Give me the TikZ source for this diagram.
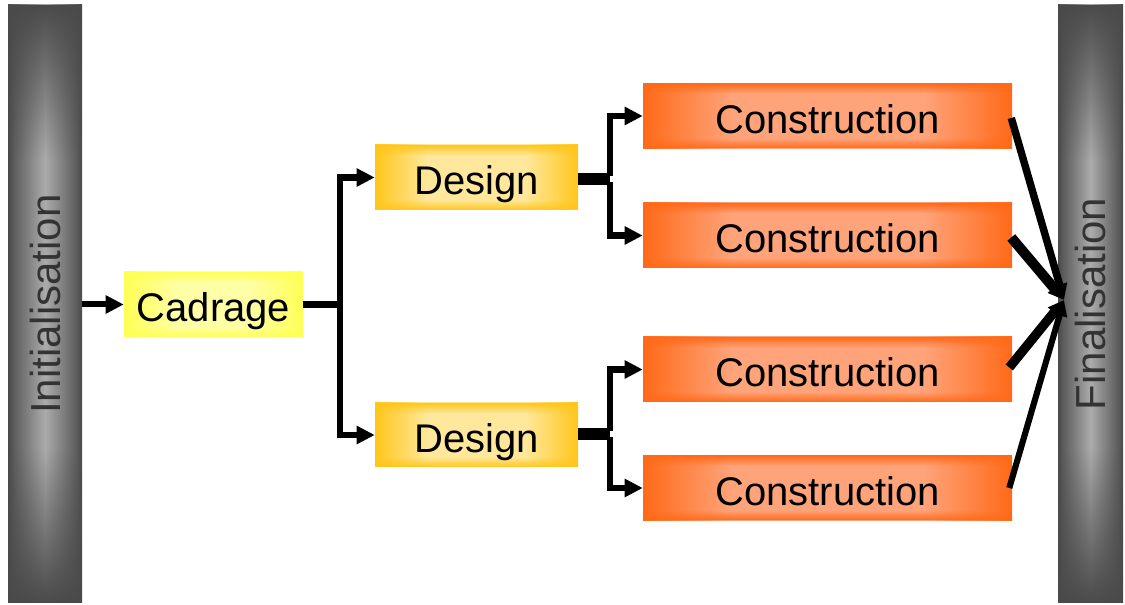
\documentclass[tikz,border=0pt]{standalone}
\usepackage{fontspec}
\setmainfont{Liberation Sans}
\usetikzlibrary{arrows.meta,fadings,calc}
\definecolor{orE}{HTML}{FF6A18}
\definecolor{orL}{HTML}{FFA37A}
\definecolor{goE}{HTML}{FFC61A}
\definecolor{goL}{HTML}{FFE89C}
\definecolor{yeE}{HTML}{FFFF55}
\definecolor{yeL}{HTML}{FFFFA6}
\definecolor{grE}{HTML}{4A4A4A}
\definecolor{grL}{HTML}{ABABAB}
\pgfdeclarehorizontalshading{consshade}{100bp}{color(0bp)=(orE); color(25bp)=(orE); color(37bp)=(orL); color(63bp)=(orL); color(75bp)=(orE); color(100bp)=(orE)}
\pgfdeclarehorizontalshading{desshade}{100bp}{color(0bp)=(goE); color(25bp)=(goE); color(38bp)=(goL); color(62bp)=(goL); color(75bp)=(goE); color(100bp)=(goE)}
\pgfdeclarehorizontalshading{cadshade}{100bp}{color(0bp)=(yeE); color(25bp)=(yeE); color(40bp)=(yeL); color(60bp)=(yeL); color(75bp)=(yeE); color(100bp)=(yeE)}
\pgfdeclarehorizontalshading{barshade}{100bp}{color(0bp)=(grE); color(25bp)=(grE); color(29bp)=(grE!80!grL); color(50bp)=(grL); color(71bp)=(grE!80!grL); color(75bp)=(grE); color(100bp)=(grE)}
\pgfdeclareverticalshading{boxfs}{100bp}{color(0bp)=(white); color(25bp)=(white); color(33bp)=(black); color(67bp)=(black); color(75bp)=(white); color(100bp)=(white)}
\pgfdeclareverticalshading{barfs}{100bp}{color(0bp)=(white); color(25bp)=(white); color(38bp)=(black); color(62bp)=(black); color(75bp)=(white); color(100bp)=(white)}
\tikzfading[name=boxfade, shading=boxfs]
\tikzfading[name=barfade, shading=barfs]
\tikzset{
  lbl/.style={font=\fontsize{30pt}{34pt}\selectfont, text=black, inner sep=0pt, text height=26.2pt, text depth=0pt},
  consbox/.style={lbl, minimum width={369*0.75pt}, minimum height={65*0.75pt}, shade, shading=consshade, postaction={fill=orE, path fading=boxfade}},
  desbox/.style={lbl, minimum width={203*0.75pt}, minimum height={65*0.75pt}, shade, shading=desshade, postaction={fill=goE, path fading=boxfade}},
  cadbox/.style={lbl, minimum width={179*0.75pt}, minimum height={65*0.75pt}, shade, shading=cadshade, postaction={fill=yeE, path fading=boxfade}},
  barbox/.style={inner sep=0pt, font=\fontsize{31.5pt}{34pt}\selectfont, text=black!80, minimum height={598*0.75pt}, shade, shading=barshade, postaction={fill=grE, path fading=barfade}},
  tip/.style={-{Triangle[length=13.5pt,width=13pt]}},
  conn/.style={line width=5pt, black},
  stem/.style={line width=9pt, black},
  fintip/.style={-{Triangle[length=12pt,width=11pt]}},
}
\begin{document}
\begin{tikzpicture}[x=0.75pt,y=-0.75pt]
\useasboundingbox (0,0) rectangle (1125,605);
\fill[white] (0,0) rectangle (1125,605);
% bars
\node[barbox, minimum width={74*0.75pt}] (init) at (45,304) {\rotatebox{90}{Initialisation}};
\node[barbox, minimum width={65*0.75pt}] (fin) at (1090.5,304) {\rotatebox{90}{Finalisation}};
% boxes
\node[cadbox] (cad) at (213.5,304.5) {Cadrage};
\node[desbox] (d1) at (476.5,177.5) {Design};
\node[desbox, minimum height={64*0.75pt}] (d2) at (476.5,435) {Design};
\node[consbox] (c1) at (827.5,116) {Construction};
\node[consbox] (c2) at (827.5,235.5) {Construction};
\node[consbox] (c3) at (827.5,369.5) {Construction};
\node[consbox] (c4) at (827.5,488) {Construction};
% junctions
\coordinate (j1) at (340,304.5);
\coordinate (j2) at (610,179);
\coordinate (j3) at (610,434);
\coordinate (conv) at (1064,300);
% connectors
\draw[conn, line width=4.5pt, tip] (init.east |- cad.west) -- (cad.west);
\draw[conn, line width=4.8pt] (cad.east) -- (j1);
\draw[conn, tip] (j1) |- (d1.west);
\draw[conn, tip] (j1) |- (d2.west);
\draw[stem] (d1.east |- j2) -- (j2);
\draw[conn, tip] ($(j2)+(0,-3)$) |- (c1.west);
\draw[conn, tip] ($(j2)+(0,3)$) |- (c2.west);
\draw[stem] (d2.east |- j3) -- (j3);
\draw[conn, tip] ($(j3)+(0,-3)$) |- (c3.west);
\draw[conn, tip] ($(j3)+(0,3)$) |- (c4.west);
\draw[line width=5.6pt, fintip] ($(c1.east)+(-1,2)$) -- (conv);
\draw[line width=7.6pt, fintip] ($(c2.east)+(-1,2)$) -- (conv);
\draw[line width=7pt, fintip] ($(c3.east)+(-3,-2)$) -- (conv);
\draw[line width=4.6pt, fintip] ($(c4.east)+(-3,0)$) -- (conv);
\end{tikzpicture}
\end{document}
